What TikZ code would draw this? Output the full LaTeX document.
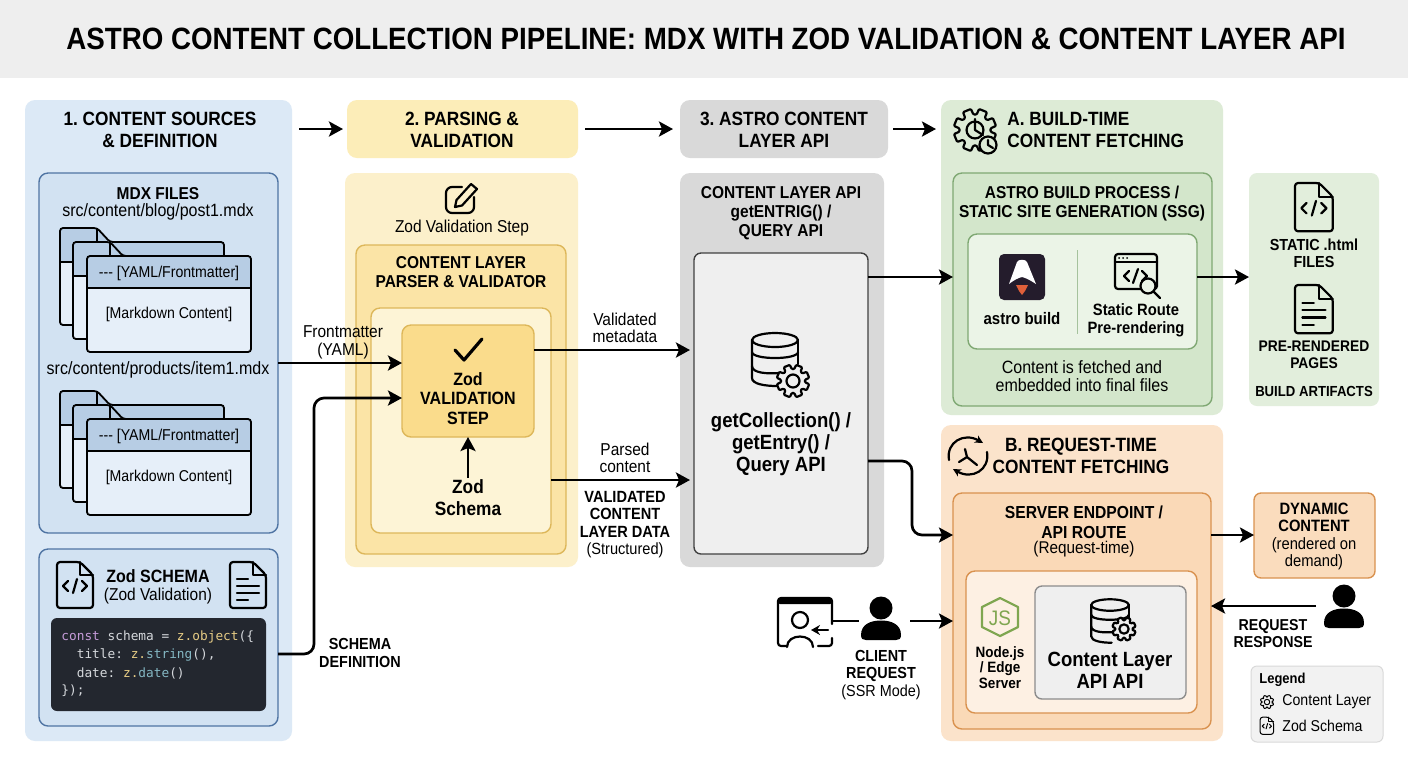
\documentclass[tikz,border=0pt]{standalone}
\usepackage{fontspec}
\setmainfont[FakeStretch=0.9]{Liberation Sans}
\setmonofont{DejaVu Sans Mono}
\usetikzlibrary{arrows.meta,calc}

\definecolor{blueouter}{HTML}{DCE9F6}
\definecolor{blueinner}{HTML}{D2E2F2}
\definecolor{blueline}{HTML}{4F74A3}
\definecolor{sheethead}{HTML}{B7CDE4}
\definecolor{sheetlow}{HTML}{E6EFF9}
\definecolor{codebg}{HTML}{23272F}
\definecolor{yellowhead}{HTML}{FCEDB8}
\definecolor{yellowouter}{HTML}{FCF0CB}
\definecolor{yellowmid}{HTML}{FBE4A6}
\definecolor{yellowin}{HTML}{FDF4D6}
\definecolor{yellowstep}{HTML}{FADC8C}
\definecolor{yellowline}{HTML}{DDB75A}
\definecolor{greyouter}{HTML}{D9D9D9}
\definecolor{greyin}{HTML}{EFEFEF}
\definecolor{greenouter}{HTML}{DDEBD6}
\definecolor{greenmid}{HTML}{D3E6CB}
\definecolor{greenin}{HTML}{EBF4E7}
\definecolor{greenline}{HTML}{7FA873}
\definecolor{orangeouter}{HTML}{FBE3CB}
\definecolor{orangemid}{HTML}{FAD9B7}
\definecolor{orangein}{HTML}{FDF0E3}
\definecolor{orangeline}{HTML}{D9924F}
\definecolor{jsgreen}{HTML}{7FA650}
\definecolor{codegrey}{HTML}{D5D8DC}
\definecolor{codepurple}{HTML}{C59BD8}
\definecolor{codeyellow}{HTML}{E6CC85}
\definecolor{codeteal}{HTML}{85B8C4}
\definecolor{astrodark}{HTML}{241C2C}
\definecolor{astroflame}{HTML}{E0603A}

\tikzset{
	panel/.style={rectangle,rounded corners=5pt,inner sep=0pt,outer sep=0pt},
	framed/.style={panel,rounded corners=4.5pt,line width=0.7pt},
	lbl/.style={align=center,inner sep=0pt,font=\fontsize{8.6}{8.8}\selectfont},
	lblb/.style={lbl,font=\bfseries\fontsize{7.9}{8.8}\selectfont},
	subhead/.style={lbl,font=\bfseries\fontsize{8.6}{9.6}\selectfont},
	bighead/.style={lbl,font=\bfseries\fontsize{9.6}{11}\selectfont},
	sheettext/.style={lbl,font=\fontsize{7.85}{8.8}\selectfont},
	pathtext/.style={lbl,font=\fontsize{8.9}{9}\selectfont},
	codeline/.style={anchor=west,inner sep=0pt,font=\ttfamily\fontsize{6.4}{7}\selectfont,text=codegrey},
	flow/.style={-{Stealth[length=7pt,width=7.5pt,inset=1.5pt]},line width=1.35pt,black,line join=round},
	icon/.style={line width=1.1pt,black,line join=round,line cap=round},
	% file with code brackets, top left at the origin
	pics/codedoc/.style={code={
		\draw[icon,rounded corners=1.5pt] (0,0) -- (23,0) -- (36,13) -- (36,46) -- (0,46) -- cycle;
		\draw[icon] (23,0) -- (23,13) -- (36,13);
		\draw[icon] (11,19) -- (6,24) -- (11,29);
		\draw[icon] (25,19) -- (30,24) -- (25,29);
		\draw[icon] (20,17) -- (16,31);
	}},
	% file with text lines
	pics/textdoc/.style={code={
		\draw[icon,rounded corners=1.5pt] (0,0) -- (23,0) -- (36,13) -- (36,46) -- (0,46) -- cycle;
		\draw[icon] (23,0) -- (23,13) -- (36,13);
		\draw[icon] (7,17) -- (18,17);
		\draw[icon] (7,24) -- (29,24);
		\draw[icon] (7,31) -- (29,31);
		\draw[icon] (7,38) -- (18,38);
	}},
	pics/gearicon/.style={code={
		\draw[icon,rounded corners=0.5pt,fill=#1] (0:12)
			\foreach \a in {0,45,...,315} { -- (\a+6:12) -- (\a+11:16.5) -- (\a+34:16.5) -- (\a+39:12)} -- cycle;
		\draw[icon] (0,0) circle (6.5);
	}},
	pics/dbicon/.style={code={
		\draw[icon] (0,0) ellipse (23 and 7);
		\draw[icon] (-23,0) -- (-23,38) .. controls (-23,44) and (-10,46) .. (2,46);
		\draw[icon] (23,0) -- (23,24);
		\draw[icon] (-23,12) .. controls (-23,20) and (23,20) .. (23,12);
		\draw[icon] (-23,26) .. controls (-23,33) and (-8,34) .. (4,33);
	}},
	pics/personicon/.style={code={
		\fill (0,11) circle (11.5);
		\fill (-20,38) .. controls (-20,27) and (-10,23.5) .. (0,23.5) .. controls (10,23.5) and (20,27) .. (20,38)
			.. controls (20,42) and (18,43) .. (15,43) -- (-15,43) .. controls (-18,43) and (-20,42) .. (-20,38) -- cycle;
	}},
}

% name, style, x1, y1, x2, y2
\newcommand{\panelbox}[6]{
	\node[#2,minimum width={(#5-#3)*0.5pt},minimum height={(#6-#4)*0.5pt}] (#1) at ({(#3+#5)/2},{(#4+#6)/2}) {};
}

\begin{document}
\frenchspacing
\begin{tikzpicture}[x=0.5pt,y=-0.5pt]
	\useasboundingbox (0,0) rectangle (1408,768);
	\fill[white] (0,0) rectangle (1408,768);

	\panelbox{titleband}{fill=black!6.5,rectangle,inner sep=0pt}{0}{0}{1408}{78}
	\node[font=\bfseries\fontsize{15.4}{17}\selectfont,inner sep=0pt] (title) at (706,39) {ASTRO CONTENT COLLECTION PIPELINE: MDX WITH ZOD VALIDATION \& CONTENT LAYER API};

	% column 1
	\panelbox{sources}{panel,fill=blueouter}{25}{100}{292}{741}
	\node[bighead] (sourceshead) at (160,130) {1. CONTENT SOURCES\\\& DEFINITION};
	\panelbox{mdxfiles}{framed,fill=blueinner,draw=blueline}{39}{173}{278}{533}
	\node[subhead] (mdxhead) at (158,193.5) {MDX FILES};
	\node[pathtext] (blogpath) at (158,212) {src/content/blog/post1.mdx};
	\node[pathtext] (productpath) at (158,370) {src/content/products/item1.mdx};

	\foreach \ytop in {228,391}
	{
		\begin{scope}[shift={(60,\ytop)},line width=0.9pt,rounded corners=1.5pt]
			\foreach \x/\y in {0/0,13/14}
			{
				\begin{scope}[shift={(\x,\y)}]
					\fill[sheetlow] (0,0) -- (37,0) -- (50,14) -- (164,14) -- (164,97) -- (0,97) -- cycle;
					\fill[sheethead] (0,0) -- (37,0) -- (50,14) -- (164,14) -- (164,34) -- (0,34) -- cycle;
					\draw (0,34) -- (37,34);
					\draw (0,0) -- (37,0) -- (50,14) -- (164,14) -- (164,97) -- (0,97) -- cycle;
					\draw (37,0) -- (37,14);
				\end{scope}
			}
			\fill[sheetlow] (27,28) rectangle (191,124);
			\fill[sheethead] (27,28) rectangle (191,60);
			\draw (27,60) -- (191,60);
			\draw (27,28) rectangle (191,124);
		\end{scope}
	}
	\node[sheettext] (yamlone) at (169,273) {-{}-{}- [YAML/Frontmatter]};
	\node[sheettext] (mdone) at (169,314) {[Markdown Content]};
	\node[sheettext] (yamltwo) at (169,436) {-{}-{}- [YAML/Frontmatter]};
	\node[sheettext] (mdtwo) at (169,477) {[Markdown Content]};

	\panelbox{zodbox}{framed,fill=blueinner,draw=blueline}{39}{549}{278}{726}
	\pic at (57,562) {codedoc};
	\pic at (230,562) {textdoc};
	\node[subhead,font=\bfseries\fontsize{8.9}{10}\selectfont] (zodhead) at (158,576) {Zod SCHEMA};
	\node[lbl] (zodsub) at (158,596) {(Zod Validation)};
	\panelbox{codeblock}{panel,rounded corners=3pt,fill=codebg}{51}{618}{266}{711}
	\node[codeline] (codea) at (61,637) {\textcolor{codepurple}{const} schema = \textcolor{codeyellow}{z.object}(\{};
	\node[codeline] (codeb) at (61,655) {\ \ title: \textcolor{codeyellow}{z.}\textcolor{codeteal}{string}(),};
	\node[codeline] (codec) at (61,673) {\ \ date: \textcolor{codeyellow}{z.}\textcolor{codeteal}{date}()};
	\node[codeline] (coded) at (61,691) {\});};

	% column 2
	\panelbox{parsehead}{panel,fill=yellowhead}{347}{100}{578}{158}
	\node[bighead] (parsetext) at (462,130) {2. PARSING \&\\VALIDATION};
	\panelbox{parsing}{panel,fill=yellowouter}{345}{173}{578}{567}
	\begin{scope}[shift={(444,183)}]
		\draw[icon,rounded corners=3pt] (18,4) -- (2,4) -- (2,30) -- (30,30) -- (30,14);
		\draw[icon] (11,24) -- (12.5,17) -- (27,1) -- (33,6) -- (18,22.5) -- cycle;
	\end{scope}
	\node[lbl] (stepcaption) at (462,228) {Zod Validation Step};
	\panelbox{parser}{framed,fill=yellowmid,draw=yellowline}{356}{245}{566}{554}
	\node[subhead] (parserhead) at (461,272) {CONTENT LAYER\\PARSER \& VALIDATOR};
	\panelbox{parserin}{framed,fill=yellowin,draw=yellowline}{371}{308}{551}{533}
	\panelbox{validstep}{framed,fill=yellowstep,draw=yellowline}{402}{325}{534}{437}
	\draw[line width=1.6pt,line cap=round,line join=round] (455,350) -- (464,360) -- (482,339);
	\node[subhead,font=\bfseries\fontsize{8.9}{9.6}\selectfont] (steptext) at (468,398.5) {Zod\\VALIDATION\\STEP};
	\node[bighead] (schematext) at (468,498) {Zod\\Schema};
	\draw[flow] (schematext.north) ++(0,-2) coordinate (schemaup) -- (validstep.south);

	% column 3
	\panelbox{apihead}{panel,fill=greyouter}{680}{100}{888}{158}
	\node[bighead] (apitext) at (784,130) {3. ASTRO CONTENT\\LAYER API};
	\panelbox{api}{panel,fill=greyouter}{680}{173}{884}{567}
	\node[subhead] (apihead2) at (781,213) {CONTENT LAYER API\\getENTRIG() /\\QUERY API};
	\panelbox{apiin}{framed,rounded corners=3.5pt,fill=greyin,draw=black!75}{694}{253}{868}{554}
	\pic at (775,340) {dbicon};
	\pic at (793,381) {gearicon=greyin};
	\node[bighead,font=\bfseries\fontsize{10.3}{11}\selectfont] (apicalls) at (781,444.5) {getCollection() /\\getEntry() /\\Query API};

	% build time
	\panelbox{buildtime}{panel,fill=greenouter}{941}{100}{1223}{415}
	\pic[scale=1.3] at (975,130) {gearicon=greenouter};
	\draw[icon,fill=greenouter] (988,145) circle (8.5);
	\draw[icon] (988,140) -- (988,145) -- (993,148);
	\draw[icon] (975,119) -- (975,130) -- (983,135);
	\node[bighead,anchor=west,align=left] (buildhead) at (1007,130) {A. BUILD-TIME\\CONTENT FETCHING};
	\panelbox{ssg}{framed,fill=greenmid,draw=greenline}{953}{173}{1212}{406}
	\node[subhead] (ssghead) at (1082,203.5) {ASTRO BUILD PROCESS /\\STATIC SITE GENERATION (SSG)};
	\panelbox{ssgin}{framed,fill=greenin,draw=greenline}{968}{234}{1197}{349}
	\draw[greenline!70,line width=0.5pt] (1077,250) -- (1077,334);
	\panelbox{astrologo}{panel,rounded corners=2.5pt,fill=astrodark}{999}{254}{1045}{300}
	\fill[white] (1009,284) -- (1017,262) .. controls (1018,259) and (1026,259) .. (1027,262) -- (1036,284) .. controls (1030,280) and (1026,278) .. (1022,277) .. controls (1018,278) and (1014,280) .. (1009,284) -- cycle;
	\fill[astroflame] (1016,285) -- (1028,285) -- (1025,291) -- (1022,295) -- (1019,291) -- cycle;
	\node[lbl,font=\bfseries\fontsize{8.35}{9}\selectfont] (astrotext) at (1022,318.5) {astro build};
	\begin{scope}[shift={(1115,254)}]
		\draw[icon,rounded corners=1.5pt] (0,0) rectangle (42,35);
		\draw[icon] (0,8) -- (42,8);
		\fill (4,4) circle (1) (8,4) circle (1) (12,4) circle (1);
		\draw[icon] (14,17) -- (9,22) -- (14,27);
		\draw[icon] (27,17) -- (32,22) -- (27,27);
		\draw[icon] (23,15) -- (18,29);
		\draw[icon,fill=greenin] (33,32) circle (7.5);
		\draw[icon] (38.5,37.5) -- (45,44);
	\end{scope}
	\node[lblb,font=\bfseries\fontsize{8.2}{9}\selectfont] (routetext) at (1136,320.5) {Static Route\\Pre-rendering};
	\node[lbl,font=\fontsize{8.9}{8.7}\selectfont] (fetchnote) at (1082,376) {Content is fetched and\\embedded into final files};

	\panelbox{artifacts}{panel,rounded corners=4pt,fill=greenouter!85!white}{1249}{173}{1379}{406}
	\pic[scale=1.05] at (1295,183) {codedoc};
	\node[lblb,font=\bfseries\fontsize{8}{8.6}\selectfont] (htmltext) at (1314,253) {STATIC .html\\FILES};
	\pic[scale=1.05] at (1295,285) {textdoc};
	\node[lblb,font=\bfseries\fontsize{7.7}{8.6}\selectfont] (pagestext) at (1314,355) {PRE-RENDERED\\PAGES};
	\node[lblb,font=\bfseries\fontsize{7.3}{8}\selectfont] (artifacttext) at (1314,391) {BUILD ARTIFACTS};

	% request time
	\panelbox{requesttime}{panel,fill=orangeouter}{941}{425}{1223}{741}
	\begin{scope}[shift={(968,456)}]
		\draw[icon,-{Stealth[length=4pt,width=4pt]}] (-19,4) .. controls (-22,-14) and (-4,-24) .. (15,-13);
		\draw[icon,-{Stealth[length=4pt,width=4pt]}] (19,-4) .. controls (22,14) and (4,24) .. (-15,13);
		\draw[icon] (-3,-7) -- (-1,1) -- (9,9);
		\draw[icon] (-1,1) -- (-9,6);
	\end{scope}
	\node[bighead] (requesthead) at (1081,455.5) {B. REQUEST-TIME\\CONTENT FETCHING};
	\panelbox{server}{framed,fill=orangemid,draw=orangeline}{953}{493}{1211}{729}
	\node[subhead,font=\bfseries\fontsize{8.7}{10}\selectfont] (serverhead) at (1084,522) {SERVER ENDPOINT /\\API ROUTE};
	\node[lbl,font=\fontsize{8.5}{9}\selectfont] (servertime) at (1084,549.5) {(Request-time)};
	\panelbox{serverin}{framed,fill=orangein,draw=orangeline}{966}{571}{1197}{713}
	\draw[jsgreen,line width=1.1pt,line join=round] (1000,598) -- (1018,607) -- (1018,627) -- (1000,636) -- (982,627) -- (982,607) -- cycle;
	\node[inner sep=0pt,text=jsgreen,font=\fontsize{10.5}{11}\selectfont] (jslabel) at (1000,618) {JS};
	\node[lblb,font=\bfseries\fontsize{7.5}{7.7}\selectfont] (nodetext) at (1000,667.5) {Node.js\\/ Edge\\Server};
	\panelbox{layerapi}{framed,rounded corners=3.5pt,fill=greyin,draw=black!45}{1035}{586}{1186}{699}
	\pic[scale=0.82] at (1110,605) {dbicon};
	\pic[scale=0.72] at (1124,629) {gearicon=greyin};
	\node[bighead,font=\bfseries\fontsize{10.3}{10.8}\selectfont] (layertext) at (1110,670) {Content Layer\\API API};
	\panelbox{dynamic}{framed,rounded corners=3.5pt,fill=orangemid!70!orangeouter,draw=orangeline}{1254}{493}{1375}{578}
	\node[lbl,font=\fontsize{8.2}{8.6}\selectfont] (dyntext) at (1314,536.5) {\textbf{DYNAMIC}\\\textbf{CONTENT}\\(rendered on\\demand)};

	\begin{scope}[shift={(778,598)}]
		\draw[icon,rounded corners=1.5pt] (54,26) -- (54,0) -- (0,0) -- (0,48) -- (9,48);
		\draw[icon,rounded corners=1.5pt] (40,48) -- (54,48) -- (54,40);
		\fill[rounded corners=1pt] (0,0) rectangle (54,6);
		\draw[icon] (22,22) circle (8);
		\draw[icon] (9,49) .. controls (9,35) and (35,35) .. (35,49);
		\draw[icon,-{Stealth[length=4.5pt,width=5pt]}] (50,32) -- (33,32);
	\end{scope}
	\coordinate (clientwindow) at (833,621);
	\pic at (881,597) {personicon};
	\coordinate (clientperson) at (859,621);
	\draw[line width=1.35pt] (clientwindow) -- (clientperson);
	\node[lbl,font=\fontsize{8}{8.8}\selectfont] (clienttext) at (881,675) {\textbf{CLIENT}\\\textbf{REQUEST}\\(SSR Mode)};
	\pic at (1344,585) {personicon};
	\node[lblb] (reqresp) at (1273,633.5) {REQUEST\\RESPONSE};

	\panelbox{legendbox}{panel,rounded corners=3pt,fill=black!5,draw=black!15,line width=0.5pt}{1251}{666}{1383}{742}
	\node[anchor=west,inner sep=0pt,font=\bfseries\fontsize{7.2}{8}\selectfont] (legendhead) at (1259,680) {Legend};
	\pic[scale=0.42,icon/.append style={line width=0.5pt}] at (1267,702) {gearicon=black!5};
	\node[anchor=west,inner sep=0pt,font=\fontsize{7.85}{8}\selectfont] (legendone) at (1282,702) {Content Layer};
	\pic[scale=0.38,icon/.append style={line width=0.5pt}] at (1260,717) {codedoc};
	\node[anchor=west,inner sep=0pt,font=\fontsize{7.85}{8}\selectfont] (legendtwo) at (1282,726) {Zod Schema};

	% connectors
	\coordinate (headline) at (0,129);
	\draw[flow,shorten <=3.5pt,shorten >=2pt] (sources.east |- headline) -- (parsehead.west |- headline);
	\draw[flow,shorten <=3.5pt,shorten >=3.5pt] (parsehead.east |- headline) -- (apihead.west |- headline);
	\draw[flow,shorten <=2.5pt,shorten >=2.5pt] (apihead.east |- headline) -- (buildtime.west |- headline);

	\coordinate (frontin) at (validstep.west |- 0,363);
	\draw[flow] (mdxfiles.east |- frontin) -- (frontin);
	\node[lbl] (fronttext) at (343,342.5) {Frontmatter\\(YAML)};
	\coordinate (schemain) at (validstep.west |- 0,398);
	\draw[flow,rounded corners=5pt] (zodbox.east |- 0,654) -| (314,398) -- (schemain);
	\node[lblb,font=\bfseries\fontsize{8}{8.6}\selectfont] (schematag) at (360,653) {SCHEMA\\DEFINITION};

	\coordinate (metaout) at (validstep.east |- 0,350);
	\draw[flow,shorten >=2pt] (metaout) -- (apiin.west |- metaout);
	\node[lbl] (metatext) at (625,328) {Validated\\metadata};
	\coordinate (parsedout) at (parserin.east |- 0,480);
	\draw[flow,shorten >=2pt] (parsedout) -- (apiin.west |- parsedout);
	\node[lbl] (parsedtext) at (625,458) {Parsed\\content};
	\node[lbl,font=\fontsize{8.1}{8.7}\selectfont] (datatext) at (625,524.5) {\textbf{VALIDATED}\\\textbf{CONTENT}\\\textbf{LAYER DATA}\\(Structured)};

	\coordinate (buildline) at (0,277);
	\draw[flow] (apiin.east |- buildline) -- (ssg.west |- buildline);
	\draw[flow] (ssgin.east |- buildline) -- (artifacts.west |- buildline);
	\coordinate (serverline) at (0,535);
	\draw[flow,rounded corners=5pt] (apiin.east |- 0,461) -| (912,535) -- (server.west |- serverline);
	\draw[flow] (server.east |- serverline) -- (dynamic.west |- serverline);
	\coordinate (clientline) at (0,621);
	\coordinate (clientstart) at (910,621);
	\draw[flow] (clientstart) -- (server.west |- clientline);
	\coordinate (responsestart) at (1316,606);
	\draw[flow] (responsestart) -- (server.east |- responsestart);
\end{tikzpicture}
\end{document}
